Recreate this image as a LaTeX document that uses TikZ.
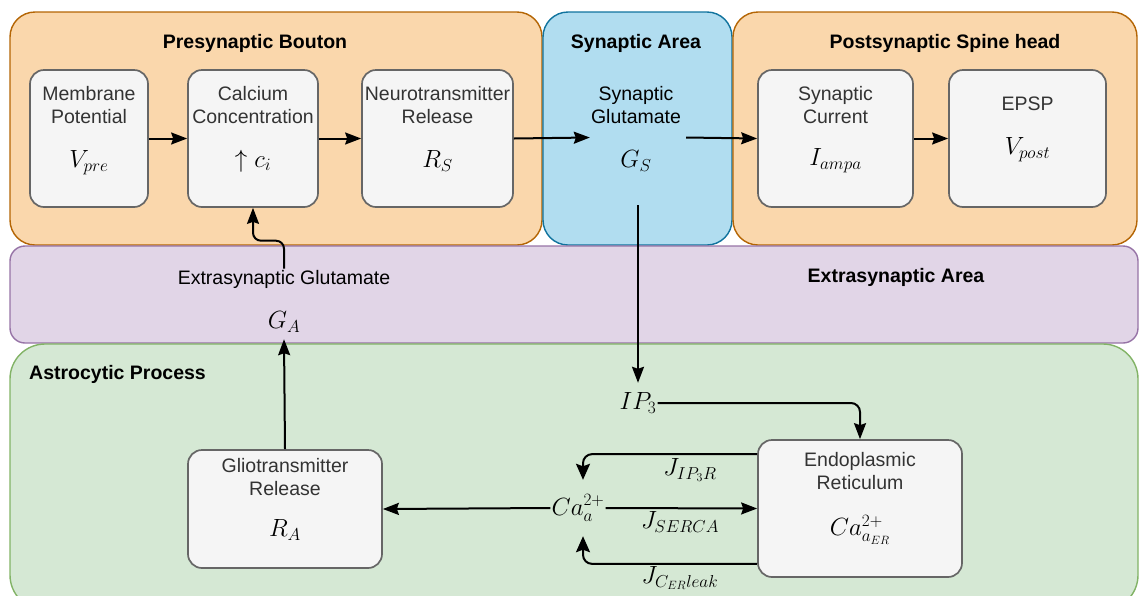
\documentclass[tikz,border=0pt]{standalone}
\usepackage{fontspec}
\setmainfont{Liberation Sans}
\usetikzlibrary{arrows.meta,calc}
\definecolor{orfill}{HTML}{FAD7AC}
\definecolor{orline}{HTML}{B46504}
\definecolor{blfill}{HTML}{B1DDF0}
\definecolor{blline}{HTML}{10739E}
\definecolor{pufill}{HTML}{E1D5E7}
\definecolor{puline}{HTML}{9673A6}
\definecolor{grfill}{HTML}{D5E8D4}
\definecolor{grline}{HTML}{82B366}
\definecolor{bxfill}{HTML}{F5F5F5}
\definecolor{bxline}{HTML}{666666}
\definecolor{bxtext}{HTML}{333333}
\begin{document}
\begin{tikzpicture}[x=1pt,y=-1pt,
  container/.style={draw, rectangle, line width=1.4pt, rounded corners=25pt, inner sep=0pt},
  box/.style={draw=bxline, fill=bxfill, rectangle, line width=1.7pt, rounded corners=14pt, inner sep=0pt},
  txt/.style={align=center, inner sep=1pt, font=\fontsize{19.5}{23}\selectfont},
  btxt/.style={txt, text=bxtext},
  ttl/.style={inner sep=1pt, font=\fontsize{19.5}{23}\selectfont\bfseries},
  mth/.style={inner sep=1pt, font=\fontsize{23}{27}\selectfont},
  arr/.style={-{Stealth[length=16pt,width=12pt,inset=2pt]}, line width=2pt},
  arrb/.style={-{Stealth[length=16pt,width=14pt,inset=2.5pt]}, line width=2pt},
]
\useasboundingbox (0,0) rectangle (1139,595);
\begin{scope}
\clip (0,0) rectangle (1139,595);
% containers
\node[container, fill=orfill, draw=orline, minimum width=532pt, minimum height=233pt] (pre) at (276,128.5) {};
\node[container, fill=blfill, draw=blline, minimum width=189pt, minimum height=233pt] (syn) at (637.5,128.5) {};
\node[container, fill=orfill, draw=orline, minimum width=404pt, minimum height=233pt] (post) at (935,128.5) {};
\node[container, fill=pufill, draw=puline, rounded corners=15pt, minimum width=1128pt, minimum height=97pt] (extra) at (574,294.5) {};
\node[container, fill=grfill, draw=grline, rounded corners=35pt, minimum width=1128pt, minimum height=266pt] (astro) at (574,477) {};
\end{scope}
% titles
\node[ttl] (t1) at (255,43) {Presynaptic Bouton};
\node[ttl] (t2) at (636,43) {Synaptic Area};
\node[ttl] (t3) at (945,43) {Postsynaptic Spine head};
\node[ttl] (t4) at (896,277) {Extrasynaptic Area};
\node[ttl, anchor=west] (t5) at (28,374) {Astrocytic Process};
% inner boxes
\node[box, minimum width=118pt, minimum height=137pt] (mp) at (89,138.5) {};
\node[box, minimum width=130pt, minimum height=137pt] (cc) at (253,138.5) {};
\node[box, minimum width=151pt, minimum height=137pt] (nr) at (437.5,138.5) {};
\node[box, minimum width=155pt, minimum height=137pt] (sc) at (835.5,138.5) {};
\node[box, minimum width=157pt, minimum height=137pt] (ep) at (1027.5,138.5) {};
\node[box, minimum width=194pt, minimum height=118pt] (gr) at (285,509) {};
\node[box, minimum width=204pt, minimum height=137pt] (er) at (860,508.5) {};
\node[minimum width=96pt, minimum height=135pt, inner sep=0pt] (sg) at (638,137.5) {};
% texts
\node[btxt] (mpt) at (89,105) {Membrane\\Potential};
\node[mth] (mpm) at (89,163) {$V_{pre}$};
\node[btxt] (cct) at (253,105) {Calcium\\Concentration};
\node[mth] (ccm) at (253,161) {$\uparrow c_i$};
\node[btxt] (nrt) at (437.5,105) {Neurotransmitter\\Release};
\node[mth] (nrm) at (437.5,161) {$R_S$};
\node[txt] (sgt) at (636,105) {Synaptic\\Glutamate};
\node[mth] (sgm) at (636,161) {$G_S$};
\node[btxt] (sct) at (835.5,105) {Synaptic\\Current};
\node[mth] (scm) at (835.5,161) {$I_{ampa}$};
\node[btxt] (ept) at (1027.5,104) {EPSP};
\node[mth] (epm) at (1027.5,150) {$V_{post}$};
\node[txt] (egt) at (284,279) {Extrasynaptic Glutamate};
\node[mth, minimum height=34pt] (ga) at (284,322) {$G_A$};
\node[mth, minimum height=40pt] (ip3) at (638,403) {$IP_3$};
\node[mth, minimum height=56pt] (ca) at (578,508) {$Ca_a^{2+}$};
\node[btxt] (grt) at (285,477) {Gliotransmitter\\Release};
\node[mth] (grm) at (285,530) {$R_A$};
\node[btxt] (ert) at (860,471) {Endoplasmic\\Reticulum};
\node[mth] (erm) at (860,530) {$Ca_{a_{ER}}^{2+}$};
\node[mth] (j1) at (690,470) {$J_{IP_3R}$};
\node[mth] (j2) at (680,522) {$J_{SERCA}$};
\node[mth] (j3) at (680,578) {$J_{C_{ER}leak}$};
% connectors
\draw[arr] (mp.east) -- (cc.west);
\draw[arr] (cc.east) -- (nr.west);
\draw[arr] (nr.east) -- (sg.west);
\draw[arr] (sg.east) -- (sc.west);
\draw[arr] (sc.east) -- (ep.west);
\draw[arr] (sg.south) -- (ip3.north);
\draw[arr, rounded corners=9pt] (ip3.east) -| (er.north);
\draw[arrb, rounded corners=9pt] ($(er.north west)+(0,15)$) -| ($(ca.north)+(5,0)$);
\draw[arr] (ca.east) -- (er.west);
\draw[arrb, rounded corners=9pt] ($(er.south west)+(0,-14)$) -| ($(ca.south)+(5,0)$);
\draw[arr] (ca.west) -- (gr.east);
\draw[arr] (gr.north) -- (ga.south);
\draw[arr, rounded corners=8pt] (egt.north) -- ++(0,-28) -| (cc.south);
\end{tikzpicture}
\end{document}
